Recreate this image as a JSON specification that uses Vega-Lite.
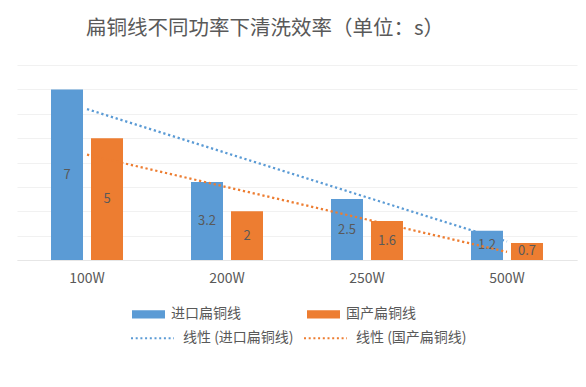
{
  "$schema": "https://vega.github.io/schema/vega-lite/v6.json",
  "width": 560,
  "height": 195,
  "autosize": {"type": "none"},
  "padding": {"left": 17, "top": 65, "right": 9, "bottom": 127},
  "background": "white",
  "title": {
    "text": "扁铜线不同功率下清洗效率（单位：s）",
    "fontSize": 20.5,
    "fontWeight": "normal",
    "color": "#595959",
    "font": "Noto Sans CJK SC",
    "anchor": "middle",
    "frame": "group",
    "dx": -32,
    "offset": 26
  },
  "config": {
    "view": {"stroke": null},
    "font": "Noto Sans CJK SC",
    "legend": {"padding": 0}
  },
  "data": {
    "values": [
      {"power": "100W", "type": "进口扁铜线", "value": 7},
      {"power": "100W", "type": "国产扁铜线", "value": 5},
      {"power": "200W", "type": "进口扁铜线", "value": 3.2},
      {"power": "200W", "type": "国产扁铜线", "value": 2},
      {"power": "250W", "type": "进口扁铜线", "value": 2.5},
      {"power": "250W", "type": "国产扁铜线", "value": 1.6},
      {"power": "500W", "type": "进口扁铜线", "value": 1.2},
      {"power": "500W", "type": "国产扁铜线", "value": 0.7}
    ]
  },
  "resolve": {"scale": {"x": "independent", "y": "independent"}},
  "layer": [
    {
      "mark": {"type": "bar"},
      "encoding": {
        "x": {
          "field": "power", "type": "nominal",
          "scale": {"paddingInner": 0.4857, "paddingOuter": 0.2429},
          "axis": {
            "title": null, "ticks": false, "labelAngle": 0,
            "labelFontSize": 14, "labelColor": "#595959", "labelPadding": 11,
            "domainColor": "#e6e6e6", "labelFont": "Noto Sans CJK SC"
          }
        },
        "xOffset": {
          "field": "type", "type": "nominal",
          "scale": {"domain": ["进口扁铜线", "国产扁铜线"], "paddingInner": 0.2, "paddingOuter": 0}
        },
        "y": {
          "field": "value", "type": "quantitative",
          "scale": {"domain": [0, 8], "nice": false},
          "axis": {
            "title": null, "labels": false, "ticks": false, "domain": false,
            "values": [0, 1, 2, 3, 4, 5, 6, 7, 8], "gridColor": "#f1f1f1"
          }
        },
        "color": {
          "field": "type", "type": "nominal",
          "scale": {"domain": ["进口扁铜线", "国产扁铜线"], "range": ["#5b9bd5", "#ed7d31"]},
          "legend": {
            "title": null, "orient": "none", "legendX": 115, "legendY": 232.5,
            "direction": "horizontal", "columns": 2, "columnPadding": 66,
            "symbolType": "M-1,-0.25H1V0.25H-1Z", "symbolSize": 1089,
            "symbolOpacity": 1, "symbolStrokeWidth": 0,
            "labelFontSize": 14, "labelColor": "#595959", "labelOffset": 6,
            "labelFont": "Noto Sans CJK SC"
          }
        }
      }
    },
    {
      "mark": {"type": "text", "fontSize": 13, "color": "#595959", "baseline": "middle"},
      "encoding": {
        "x": {
          "field": "power", "type": "nominal",
          "scale": {"paddingInner": 0.4857, "paddingOuter": 0.2429},
          "axis": null
        },
        "xOffset": {
          "field": "type", "type": "nominal",
          "scale": {"domain": ["进口扁铜线", "国产扁铜线"], "paddingInner": 0.2, "paddingOuter": 0}
        },
        "y": {
          "field": "value", "type": "quantitative",
          "scale": {"domain": [0, 16], "nice": false},
          "axis": null
        },
        "text": {"field": "value", "type": "nominal"}
      }
    },
    {
      "transform": [
        {"window": [{"op": "rank", "as": "idx"}], "sort": [{"field": "power"}], "groupby": ["type"]},
        {"regression": "value", "on": "idx", "groupby": ["type"], "method": "linear"}
      ],
      "mark": {"type": "line", "strokeWidth": 2.25, "strokeDash": [2.25, 2.75]},
      "encoding": {
        "x": {
          "field": "idx", "type": "quantitative",
          "scale": {"domain": [0.5, 4.5], "nice": false, "zero": false},
          "axis": null
        },
        "y": {
          "field": "value", "type": "quantitative",
          "scale": {"domain": [0, 8], "nice": false},
          "axis": null
        },
        "stroke": {
          "field": "type", "type": "nominal",
          "sort": ["进口扁铜线", "国产扁铜线"],
          "scale": {"range": ["#5b9bd5", "#ed7d31"]},
          "legend": {
            "title": null, "orient": "none", "legendX": 113, "legendY": 250.5,
            "direction": "horizontal", "columns": 2, "columnPadding": 6,
            "symbolType": "stroke", "symbolSize": 1849,
            "symbolStrokeWidth": 2, "symbolDash": [2, 2.7],
            "labelFontSize": 14, "labelColor": "#595959", "labelOffset": 8,
            "labelFont": "Noto Sans CJK SC",
            "labelExpr": "'线性 (' + datum.label + ')'"
          }
        }
      }
    }
  ]
}
